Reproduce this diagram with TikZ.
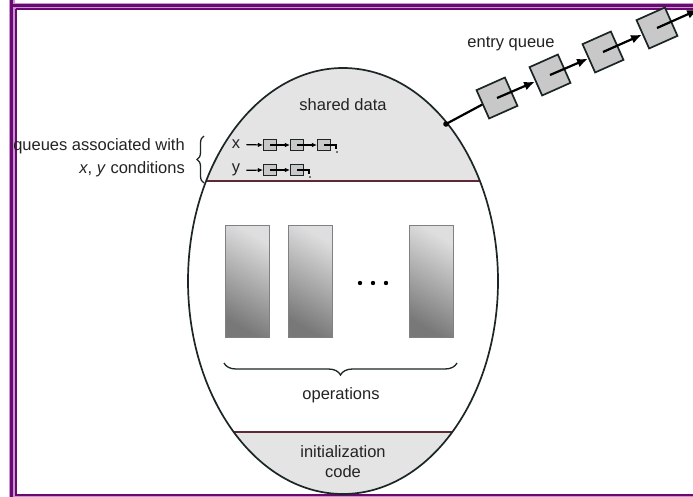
\documentclass[tikz,border=0pt]{standalone}
\usepackage{fontspec}
\setmainfont{Liberation Sans}
\usetikzlibrary{arrows.meta,decorations.pathreplacing,calc}

\definecolor{frameviolet}{RGB}{106,10,112}
\definecolor{framelilac}{RGB}{200,150,210}
\definecolor{inkdark}{RGB}{28,38,38}
\definecolor{panelgrey}{RGB}{228,228,228}
\definecolor{boxgrey}{RGB}{200,200,200}
\definecolor{divider}{RGB}{95,40,50}
\definecolor{txt}{RGB}{35,35,35}
\definecolor{oplight}{RGB}{222,222,222}
\definecolor{opdark}{RGB}{120,120,120}
\definecolor{opedge}{RGB}{125,128,132}

\begin{document}
\begin{tikzpicture}[x=1pt,y=-1pt,
  lbl/.style={text=txt,font=\fontsize{16.5}{19}\selectfont,inner sep=0pt},
  qbox/.style={draw=inkdark,fill=boxgrey,line width=1.7pt,minimum size=31pt,inner sep=0pt,rotate=24},
  sbox/.style={draw=inkdark,fill=boxgrey,line width=1.1pt,minimum width=13pt,minimum height=11pt,inner sep=0pt},
  qarrow/.style={draw=black,line width=2.2pt,-{Latex[length=11pt,width=9pt]}},
  qline/.style={draw=black,line width=2.2pt},
  sarrow/.style={draw=black,line width=1.2pt,-{Latex[length=5pt,width=4.5pt]}},
  oprect/.style={draw=opedge,line width=0.9pt,minimum width=44pt,minimum height=112pt,inner sep=0pt,
                 top color=oplight,bottom color=opdark,shading angle=-30},
  bracepen/.style={draw=inkdark,line width=1.3pt,decorate},
]
\useasboundingbox (0,0) rectangle (693,497);
\clip (0,0) rectangle (693,497);
\fill[white] (0,0) rectangle (693,497);

% page frame
\fill[framelilac] (8.5,0) rectangle (15.2,497);
\fill[framelilac] (8.5,3) rectangle (693,9.5);
\fill[frameviolet] (9.6,0) rectangle (13.3,497);
\fill[frameviolet] (9.6,4) rectangle (693,7.3);
\fill[framelilac] (15.2,493.5) rectangle (693,497);
\draw[frameviolet,line width=1.4pt] (15.9,9) -- (15.9,494.8) -- (693,494.8);
\draw[frameviolet,line width=1.4pt] (15.9,9) -- (693,9);

% monitor body
\coordinate (ctr) at (343,281);
\begin{scope}
  \clip (ctr) ellipse [x radius=155, y radius=213];
  \fill[panelgrey] (150,40) rectangle (540,181);
  \fill[panelgrey] (150,432) rectangle (540,510);
  \draw[divider,line width=1.3pt] (150,181) -- (540,181);
  \draw[divider,line width=1.3pt] (150,432) -- (540,432);
\end{scope}
\draw[inkdark,line width=1.7pt] (ctr) ellipse [x radius=155, y radius=213];

% labels inside the monitor
\node[lbl,anchor=base] (shared) at (343,111) {shared data};
\node[lbl,anchor=base] (opslbl) at (341,399) {operations};
\node[lbl,anchor=base] (init1) at (343,457) {initialization};
\node[lbl,anchor=base] (init2) at (343,477.5) {code};

% condition queues
\node[lbl,anchor=base] (xl) at (236,149) {x};
\node[lbl,anchor=base] (yl) at (236,173) {y};
\node[sbox] (xq1) at (270,145) {};
\node[sbox] (xq2) at (297,145) {};
\node[sbox] (xq3) at (324,145) {};
\node[sbox] (yq1) at (270,170) {};
\node[sbox] (yq2) at (297,170) {};
\draw[sarrow] ([xshift=6pt]xl.east) -- (xq1.west);
\draw[sarrow] (xq1.center) -- (xq2.west);
\draw[sarrow] (xq2.center) -- (xq3.west);
\draw[black,line width=1.2pt] (xq3.center) -- ++(12,0) -- ++(0,4);
\fill[black] ($(xq3.center)+(13,7)$) circle (0.9pt);
\draw[sarrow] ([xshift=6pt]yl.east) -- (yq1.west);
\draw[sarrow] (yq1.center) -- (yq2.west);
\draw[black,line width=1.2pt] (yq2.center) -- ++(12,0) -- ++(0,4);
\fill[black] ($(yq2.center)+(13,7)$) circle (0.9pt);

% note on the left
\node[lbl,anchor=base east] (qa1) at (185,150.5) {queues associated with};
\node[lbl,anchor=base east] (qa2) at (185,174) {\textit{x}, \textit{y} conditions};
\draw[bracepen,decoration={brace,amplitude=7pt}] (204,183) -- (204,136);

% operations
\node[oprect] (op1) at (247,281) {};
\node[oprect] (op2) at (310,281) {};
\node[oprect] (op3) at (431,281) {};
\foreach \px in {360,373,386}
  \fill[black] (\px,283) circle (2.2pt);
\draw[bracepen,decoration={brace,amplitude=12pt}] (457,363) -- (224,363);

% entry queue
\coordinate (ed) at (446,124);
\fill[black] (ed) circle (2.8pt);
\node[lbl,anchor=base] (eqlbl) at (511,48) {entry queue};
\node[qbox] (eq1) at (497,98) {};
\node[qbox] (eq2) at (550,75) {};
\node[qbox] (eq3) at (603,52) {};
\node[qbox] (eq4) at (657,28) {};
\coordinate (eq5) at ($(eq4)+(41.1,-18.3)$);
\draw[qline] (ed) -- (eq1.west);
\draw[qarrow] (eq1.center) -- (eq2.west);
\draw[qarrow] (eq2.center) -- (eq3.west);
\draw[qarrow] (eq3.center) -- (eq4.west);
\draw[qarrow] (eq4.center) -- (eq5);
\end{tikzpicture}
\end{document}
